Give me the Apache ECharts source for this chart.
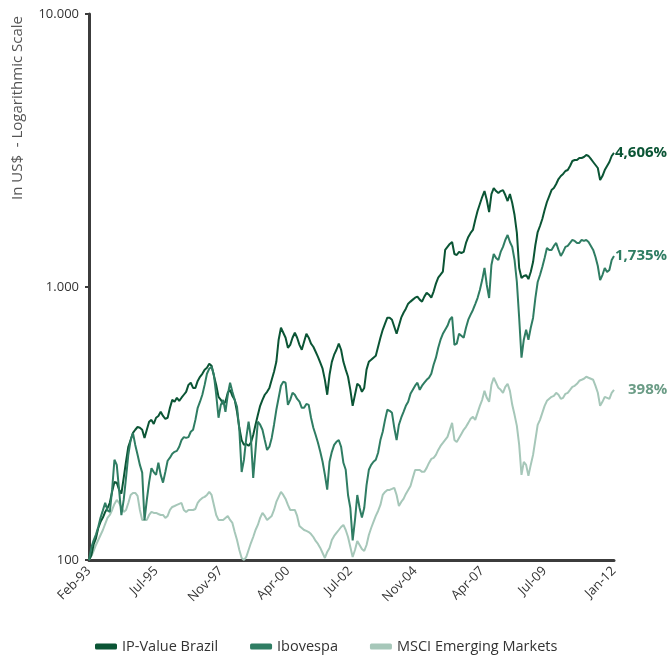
<!DOCTYPE html>
<html>
<head>
<meta charset="utf-8">
<script src="https://cdn.jsdelivr.net/npm/echarts@6/dist/echarts.min.js"></script>
<style>
html,body{margin:0;padding:0;background:#fff;}
#chart{width:669px;height:656px;}
</style>
</head>
<body>
<div id="chart"></div>
<script>
// Monthly categories Feb-93 .. Jan-12
const monthNames = ['Jan','Feb','Mar','Apr','May','Jun','Jul','Aug','Sep','Oct','Nov','Dec'];
const categories = [];
for (let k = 0; k < 228; k++) {
  const m = (1 + k) % 12;
  const yr = 1993 + Math.floor((1 + k) / 12);
  categories.push(monthNames[m] + '-' + String(yr).slice(2));
}
const xTickLabels = ['Feb-93','Jul-95','Nov-97','Apr-00','Jul-02','Nov-04','Apr-07','Jul-09','Jan-12'];
const yTickValues = [100, 1000, 10000];
const yTickLabels = ['100', '1.000', '10.000'];

const ipValue = [100,104,114,120,131,138,143,150,155,162,
178,193,192,181,175,200,229,260,275,292,
300,307,305,300,280,300,321,326,315,332,
337,349,337,329,332,361,386,380,393,383,
393,403,413,438,446,427,427,453,469,481,
498,506,523,515,473,438,396,386,373,380,
410,420,399,386,349,305,275,264,266,262,
269,287,313,340,367,386,403,413,427,457,
489,532,641,709,680,652,599,614,652,680,
652,614,589,630,674,652,620,604,579,555,
528,502,457,403,477,532,565,589,620,589,
532,498,469,420,367,403,442,435,413,427,
498,532,541,551,560,604,652,697,734,772,
772,759,715,674,721,772,805,833,869,884,
899,914,922,899,884,922,953,937,914,962,
1029,1082,1110,1139,1367,1402,1438,1462,1321,1310,
1344,1332,1344,1450,1525,1578,1618,1760,1898,2014,
2136,2246,2083,1882,2190,2303,2246,2208,2246,2265,
2172,2065,2190,2031,1835,1578,1174,1078,1097,1106,
1069,1135,1234,1425,1590,1673,1774,1914,2048,2154,
2265,2303,2384,2486,2550,2594,2660,2682,2775,2894,
2919,2919,2969,2969,2994,3045,3019,2944,2870,2798,
2728,2465,2550,2682,2775,2870,3019,3097];

const ibovespa = [100,111,118,124,132,143,152,162,152,150,
181,233,223,181,146,166,200,243,275,292,
264,243,223,209,140,166,193,217,210,205,
227,205,192,210,231,237,245,249,251,260,
275,282,280,282,295,300,326,361,380,403,
438,481,502,510,477,403,332,370,386,349,
403,446,413,386,364,300,210,233,280,321,
280,200,253,321,313,300,275,253,260,280,
313,355,393,435,450,446,370,386,410,403,
389,380,361,361,373,370,332,305,287,269,
249,229,205,181,229,249,264,271,275,260,
227,214,173,155,118,140,173,155,143,155,
188,214,223,229,233,247,275,295,326,355,
352,346,305,275,313,332,349,367,380,406,
420,435,446,420,435,446,457,465,481,519,
551,599,641,674,697,721,759,778,614,620,
674,663,652,709,759,792,824,866,911,975,
1060,1174,1017,911,1204,1321,1278,1256,1344,1402,
1487,1551,1462,1402,1256,1043,770,551,641,697,
641,709,770,911,1043,1106,1184,1278,1390,1367,
1367,1414,1450,1367,1299,1344,1402,1414,1450,1487,
1475,1450,1450,1487,1475,1487,1462,1414,1367,1288,
1194,1060,1106,1174,1135,1154,1256,1299];

const msciEM = [100,103.4,107.9,113.5,118.4,123.5,128.8,135.5,142.6,146.2,
152.5,160.5,166,161.8,156.4,150,152.5,161.8,173.1,176.1,
176.1,171.7,152.5,140.2,140.2,140.2,146.2,150,148.7,148.7,
147.4,146.2,146.2,142.6,145,152.5,156.4,157.7,159.1,160.5,
161.8,152.5,150,152.5,152.5,152.5,153.8,161.8,166,168.8,
170.3,173.1,177.6,173.1,159.1,146.2,140.2,140.2,140.2,142.6,
145,140.2,136.7,126.6,118.4,108.8,101.7,100,102.6,108.8,
115.4,121.4,128.8,134.4,142.6,148.7,145,140.2,142.6,145,
152.5,163.2,170.3,177.6,173.1,167.4,159.1,152.5,152.5,152.5,
145,133.2,131,128.8,127.8,126.6,124.5,121.4,117.4,114.5,
110.7,106.1,101.7,107,110.7,118.4,122.5,125.6,128.8,132.1,
134.4,128.8,121.4,111.6,102.6,108.8,117.4,113.5,109.7,107.9,
113.5,123.5,131,137.9,145,151.2,159.1,173.1,177.6,180.6,
180.6,182.1,183.7,173.1,157.7,163.2,167.4,174.6,180.6,186.8,
199.9,213.8,213.8,213.8,210.3,210.3,217.5,226.8,234.6,236.6,
242.7,253.1,261.8,268.5,275.4,282.5,299.7,317.9,275.4,270.8,
280.1,289.7,299.7,307.4,317.9,328.9,334.5,326.1,346,367,
386.1,416.6,392.7,379.6,438.3,465,445.8,427.3,420.1,409.7,
430.9,442,416.6,370.1,340.2,310,264,205,228.7,223,
203.3,223,242.7,275.4,312.6,326.1,346,367,382.8,389.4,
396,399.4,409.7,402.8,389.4,392.7,406.2,409.7,420.1,430.9,
434.5,442,453.4,457.2,461.1,469,465,461.1,457.2,434.5,
409.7,367,379.6,396,392.7,389.4,409.7,420.1];

const seriesNames = ['IP-Value Brazil', 'Ibovespa', 'MSCI Emerging Markets'];
const endLabels = ['4,606%', '1,735%', '398%'];

const FONT = 'Open Sans';
const C_DARK = '#0b5535', C_MID = '#2f7d63', C_LIGHT = '#a6c7b9';

const chart = echarts.init(document.getElementById('chart'), null, {renderer: 'canvas'});
chart.setOption({
  animation: false,
  backgroundColor: '#fff',
  textStyle: {fontFamily: FONT},
  grid: {left: 89, right: 55, top: 14, bottom: 96, containLabel: false},
  legend: {
    data: seriesNames,
    left: 90, top: 634,
    icon: 'roundRect',
    itemWidth: 22, itemHeight: 6, itemGap: 32,
    textStyle: {fontFamily: FONT, fontSize: 14.5, color: '#333'}
  },
  graphic: [{
    type: 'text',
    x: 18, y: 108,
    rotation: Math.PI / 2,
    style: {
      text: 'In US$  - Logarithmic Scale',
      fontFamily: FONT, fontSize: 15, fill: '#555',
      textAlign: 'center', textVerticalAlign: 'middle'
    }
  }],
  xAxis: {
    type: 'category',
    data: categories,
    boundaryGap: false,
    axisLine: {show: true, lineStyle: {color: '#3c3c3c', width: 3}},
    axisTick: {show: false},
    splitLine: {show: false},
    axisLabel: {
      interval: function (idx, val) { return xTickLabels.indexOf(val) >= 0; },
      rotate: 45, margin: 9,
      fontFamily: FONT, fontSize: 13, color: '#333'
    }
  },
  yAxis: {
    type: 'log', logBase: 10,
    min: 100, max: 10000,
    axisLine: {show: true, lineStyle: {color: '#3c3c3c', width: 3}},
    axisTick: {show: true, length: 4, lineStyle: {color: '#3c3c3c', width: 2}},
    splitLine: {show: false},
    axisLabel: {
      margin: 10,
      fontFamily: FONT, fontSize: 13, color: '#333',
      formatter: function (v) {
        const i = yTickValues.indexOf(Math.round(v));
        return i >= 0 ? yTickLabels[i] : '';
      }
    }
  },
  series: [
    {
      name: seriesNames[2], type: 'line', data: msciEM, color: C_LIGHT,
      symbol: 'none', lineStyle: {width: 2, color: C_LIGHT},
      endLabel: {show: true, formatter: endLabels[2], color: '#6b9c86', fontWeight: 'bold',
        fontFamily: FONT, fontSize: 15, distance: 14}
    },
    {
      name: seriesNames[0], type: 'line', data: ipValue, color: C_DARK,
      symbol: 'none', lineStyle: {width: 2, color: C_DARK},
      endLabel: {show: true, formatter: endLabels[0], color: C_DARK, fontWeight: 'bold',
        fontFamily: FONT, fontSize: 15, distance: 1}
    },
    {
      name: seriesNames[1], type: 'line', data: ibovespa, color: C_MID,
      symbol: 'none', lineStyle: {width: 2, color: C_MID},
      endLabel: {show: true, formatter: endLabels[1], color: C_MID, fontWeight: 'bold',
        fontFamily: FONT, fontSize: 15, distance: 1}
    }
  ]
});
</script>
</body>
</html>
